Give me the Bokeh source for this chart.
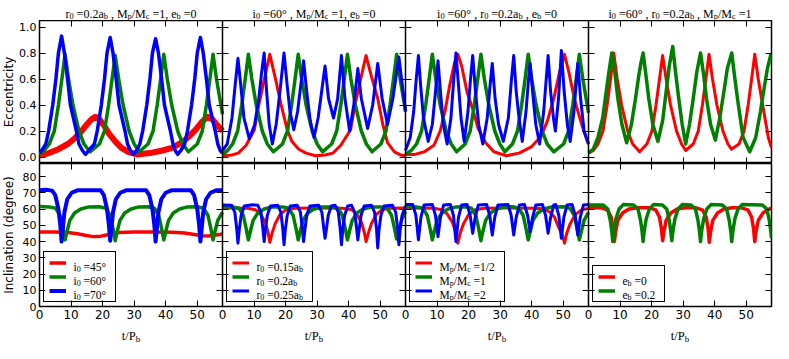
import math
from bokeh.plotting import figure
from bokeh.models import (Range1d, LinearAxis, FixedTicker, NumeralTickFormatter, Label,
                          Legend, LegendItem)
from bokeh.layouts import column, row
from bokeh.embed import file_html
from bokeh.resources import INLINE

# ---------------------------------------------------------------- data
T_MAX = 58
E_TICKS = [0.0, 0.2, 0.4, 0.6, 0.8, 1.0]
I_TICKS = [0, 10, 20, 30, 40, 50, 60, 70, 80]
T_TICKS = [0, 10, 20, 30, 40, 50]

TITLES = ["r_0 =0.2a_b , M_p/M_c =1, e_b =0",
          "i_0 =60° , M_p/M_c =1, e_b =0",
          "i_0 =60° , r_0 =0.2a_b , e_b =0",
          "i_0 =60° , r_0 =0.2a_b , M_p/M_c =1"]
LEGEND_LABELS = [["i_0 =45°", "i_0 =60°", "i_0 =70°"],
                 ["r_0 =0.15a_b", "r_0 =0.2a_b", "r_0 =0.25a_b"],
                 ["M_p/M_c =1/2", "M_p/M_c =1", "M_p/M_c =2"],
                 ["e_b =0", "e_b =0.2"]]
Y_LABEL_TOP = "Eccentricity"
Y_LABEL_BOTTOM = "Inclination (degree)"
X_LABEL = "t/P_b"

# panel 1 : eccentricity
E1_T_RED = [0, 3, 6, 9, 11, 13, 15, 16.5, 17.7, 19, 20.5, 22, 24, 26, 28, 31, 35, 39, 42, 45,
            47.5, 49.5, 51.5, 53.2, 54.8, 56.5, 58]
E1_RED = [0.01, 0.03, 0.06, 0.1, 0.14, 0.19, 0.25, 0.29, 0.31, 0.29, 0.24, 0.18, 0.12, 0.07, 0.04,
          0.02, 0.03, 0.05, 0.07, 0.11, 0.16, 0.21, 0.27, 0.31, 0.29, 0.24, 0.2]
E1_T_GREEN = [0, 1.5, 3.1, 4.7, 6.0, 7.1, 8.1, 9.2, 10.6, 12.5, 14.1, 16.0, 19.0, 20.6, 21.9, 23.0,
              24.0, 25.1, 26.5, 28.4, 30.0, 31.6, 34.4, 36.0, 37.3, 38.4, 39.4, 40.5, 41.9, 43.8,
              45.4, 47.2, 50.0, 51.6, 52.9, 54.0, 55.0, 56.1, 57.5, 58]
E1_GREEN = [0.02, 0.05, 0.1, 0.2, 0.4, 0.6, 0.79, 0.6, 0.4, 0.2, 0.1, 0.04, 0.1, 0.2, 0.4, 0.6,
            0.78, 0.6, 0.4, 0.2, 0.1, 0.04, 0.1, 0.2, 0.4, 0.6, 0.79, 0.6, 0.4, 0.2,
            0.1, 0.04, 0.1, 0.2, 0.4, 0.6, 0.79, 0.6, 0.4, 0.33]
E1_T_BLUE = [0, 1.0, 2.0, 2.9, 4.2, 5.2, 6.0, 7.0, 7.9, 8.9, 9.8, 11.7, 12.5, 13.6, 14.6, 15.6,
             17.4, 18.3, 19.6, 20.6, 21.4, 22.4, 23.3, 24.3, 25.2, 27.1, 27.9, 28.8, 29.7, 30.8,
             31.8, 32.7, 34.0, 35.0, 35.8, 36.8, 37.7, 38.7, 39.6, 41.5, 42.3, 43.0, 43.8, 44.8,
             46.0, 46.9, 48.2, 49.2, 50.0, 51.0, 51.9, 52.9, 53.8, 55.7, 56.5, 57.3, 58]
E1_BLUE = [0.03, 0.06, 0.1, 0.2, 0.4, 0.6, 0.8, 0.93, 0.8, 0.6, 0.4, 0.2, 0.1, 0.05, 0.02, 0.05,
           0.1, 0.2, 0.4, 0.6, 0.8, 0.92, 0.8, 0.6, 0.4, 0.2, 0.1, 0.05, 0.02, 0.05,
           0.1, 0.2, 0.4, 0.6, 0.8, 0.91, 0.8, 0.6, 0.4, 0.2, 0.1, 0.05, 0.02, 0.05,
           0.1, 0.2, 0.4, 0.6, 0.8, 0.92, 0.8, 0.6, 0.4, 0.2, 0.1, 0.05, 0.03]

# panel 1 : inclination
I1_T_RED = [0, 5, 9, 12, 14.5, 17, 19.5, 22, 25, 30, 36, 42, 46, 49, 51.5, 53.5, 55.5, 58]
I1_RED = [45.8, 45.8, 45.5, 44.8, 43.8, 43.0, 43.3, 44.3, 45.5, 45.9, 45.9, 45.7, 45.2, 44.3,
          43.6, 43.4, 43.8, 44.6]
I1_T_GREEN = [0, 3.1, 5.1, 6.5, 7.4, 8.1, 8.7, 9.6, 11.1, 13.1, 15.6, 19.0, 21.0, 22.4, 23.3, 24.0,
              24.6, 25.5, 27.0, 29.0, 31.5, 34.4, 36.4, 37.8, 38.7, 39.4, 40.0, 40.9, 42.4, 44.4,
              46.9, 50.0, 52.0, 53.4, 54.3, 55.0, 55.6, 56.5, 58]
I1_GREEN = [61.5, 61.3, 60.5, 56, 48, 41, 46, 53, 57.5, 60, 61.3, 61.4, 60.5, 56, 48, 40.5,
            46, 53, 57.5, 60, 61.3, 61.4, 60.5, 56, 48, 41, 46, 53, 57.5, 60,
            61.3, 61.4, 60.5, 56, 48, 41, 46, 53, 58]
I1_T_BLUE = [0, 2, 4.0, 5.0, 6.0, 6.6, 7.0, 7.4, 7.9, 8.8, 10.2, 12.0, 19.4, 20.4, 21.4, 22.0,
             22.4, 22.8, 23.3, 24.2, 25.6, 27.4, 33.8, 34.8, 35.8, 36.4, 36.8, 37.2, 37.7, 38.6,
             40.0, 41.8, 48.0, 49.0, 50.0, 50.6, 51.0, 51.4, 51.9, 52.8, 54.2, 56.0, 58]
I1_BLUE = [71.5, 71.8, 71.3, 68.5, 60, 50, 40, 48, 58, 66, 70, 71.5, 71.5, 68.5, 60, 50,
           40.5, 48, 58, 66, 70, 71.5, 71.5, 68.5, 60, 50, 40, 48, 58, 66,
           70, 71.5, 71.5, 68.5, 60, 50, 40, 48, 58, 66, 70, 71.5, 71.6]

# panel 2 : eccentricity
E2_T_RED = [0, 3, 5, 7.5, 10.1, 11.5, 13.2, 15.0, 16.9, 18.6, 20.5, 22.0, 24.2, 26.5, 29.5, 32.5,
            35, 37.5, 40.6, 42.0, 43.7, 45.5, 47.2, 49.2, 50.8, 52.3, 54.5, 56.5, 58]
E2_RED = [0.01, 0.015, 0.03, 0.09, 0.21, 0.4, 0.59, 0.79, 0.59, 0.4, 0.21, 0.12, 0.06, 0.03, 0.01,
          0.015, 0.03, 0.09, 0.21, 0.4, 0.59, 0.78, 0.62, 0.45, 0.25, 0.11, 0.04, 0.015, 0.01]
E2_T_GREEN = [0, 1.6, 3.2, 4.8, 6.1, 7.2, 8.2, 9.3, 10.7, 12.6, 14.2, 16.1, 19.0, 20.6, 21.9, 23.0,
              24.0, 25.1, 26.5, 28.4, 30.0, 31.7, 34.6, 36.2, 37.5, 38.6, 39.6, 40.7, 42.1, 44.0,
              45.6, 47.4, 50.2, 51.8, 53.1, 54.2, 55.2, 56.3, 57.7, 58]
E2_GREEN = [0.02, 0.05, 0.1, 0.2, 0.4, 0.6, 0.79, 0.6, 0.4, 0.2, 0.1, 0.04, 0.1, 0.2, 0.4, 0.6,
            0.79, 0.6, 0.4, 0.2, 0.1, 0.04, 0.1, 0.2, 0.4, 0.6, 0.79, 0.6, 0.4, 0.2,
            0.1, 0.04, 0.1, 0.2, 0.4, 0.6, 0.79, 0.6, 0.4, 0.35]
E2_T_BLUE = [0, 1.5, 3.0, 4.0, 4.9, 5.8, 6.8, 8.5, 10.2, 11.5, 12.4, 13.2, 14.0, 14.8, 15.8, 17.0,
             18.2, 19.5, 20.5, 21.4, 22.6, 23.8, 24.8, 25.7, 26.7, 27.8, 29.0, 30.3, 31.4, 32.5,
             33.6, 35.2, 36.5, 37.7, 38.8, 40.3, 41.6, 42.9, 44.0, 46.0, 47.6, 49.2, 50.6, 52.3,
             54.0, 55.9, 57.0, 58]
E2_BLUE = [0.05, 0.1, 0.3, 0.55, 0.76, 0.55, 0.3, 0.14, 0.25, 0.45, 0.65, 0.8, 0.5, 0.25, 0.1, 0.25,
           0.5, 0.8, 0.55, 0.35, 0.21, 0.35, 0.55, 0.74, 0.5, 0.28, 0.15, 0.3, 0.5, 0.7,
           0.45, 0.3, 0.45, 0.78, 0.45, 0.2, 0.4, 0.68, 0.45, 0.22, 0.4, 0.72, 0.45, 0.25,
           0.45, 0.77, 0.55, 0.35]

# panel 2 : inclination
I2_T_RED = [0, 8, 10.5, 12, 13.5, 14.4, 15.0, 15.7, 16.7, 18.2, 20, 23, 30, 38, 41, 42.5, 44,
            44.9, 45.5, 46.2, 47.2, 48.7, 50.5, 53, 58]
I2_RED = [60.6, 60.5, 59.5, 57, 52, 46, 39.5, 45, 51, 56.5, 59.5, 60.4, 60.6, 60.5, 59.5, 57, 52,
          46, 40, 45, 51, 56.5, 59.5, 60.4, 60.6]
I2_T_GREEN = [0, 3.2, 5.2, 6.6, 7.5, 8.2, 8.8, 9.7, 11.2, 13.2, 15.7, 19.0, 21.0, 22.4, 23.3, 24.0,
              24.6, 25.5, 27.0, 29.0, 31.5, 34.6, 36.6, 38.0, 38.9, 39.6, 40.2, 41.1, 42.6, 44.6,
              47.1, 50.2, 52.2, 53.6, 54.5, 55.2, 55.8, 56.7, 58]
I2_GREEN = [61.3, 61.2, 60.5, 56, 48, 41, 46, 53, 57.5, 60, 61.2, 61.3, 60.5, 56, 48, 41,
            46, 53, 57.5, 60, 61.2, 61.3, 60.5, 56, 48, 41, 46, 53, 57.5, 60,
            61.2, 61.3, 60.5, 56, 48, 41.5, 46, 53, 58.5]
I2_T_BLUE = [0, 2.9, 3.9, 4.5, 4.9, 5.3, 5.9, 6.9, 9.5, 11.2, 12.2, 12.8, 13.2, 13.6, 14.2, 15.2,
             17.5, 18.5, 19.1, 19.5, 19.9, 20.5, 21.5, 23.7, 24.7, 25.3, 25.7, 26.1, 26.7, 27.7,
             30.5, 31.5, 32.1, 32.5, 32.9, 33.5, 34.5, 35.7, 36.7, 37.3, 37.7, 38.1, 38.7, 39.7,
             40.9, 41.9, 42.5, 42.9, 43.3, 43.9, 44.9, 47.2, 48.2, 48.8, 49.2, 49.6, 50.2, 51.2,
             53.9, 54.9, 55.5, 55.9, 56.3, 56.9, 58]
I2_BLUE = [62.5, 62.3, 58, 48, 39, 47, 56, 61.8, 62.6, 62.3, 58, 48, 40, 47, 56, 61.8,
           62.3, 58, 48, 38, 47, 56, 61.8, 62.3, 58, 48, 40, 47, 56, 61.8,
           62.3, 58, 48, 42, 47, 56, 61.8, 62.3, 58, 48, 38, 47, 56, 61.8,
           62.3, 58, 48, 41, 47, 56, 61.8, 62.3, 58, 48, 36, 47, 56, 61.8,
           62.3, 58, 48, 38, 47, 56, 61.8]

# panel 3 : eccentricity
E3_T_RED = [0, 3, 6, 9, 11, 12.5, 14, 15.5, 16.6, 17.8, 19.5, 21.3, 23, 25.4, 28, 32, 36, 40, 43,
            45, 47, 48.8, 50.4, 51.8, 53.5, 55, 56.5, 58]
E3_RED = [0.02, 0.02, 0.04, 0.09, 0.2, 0.35, 0.55, 0.72, 0.79, 0.7, 0.5, 0.37, 0.22, 0.11, 0.04,
          0.01, 0.03, 0.08, 0.16, 0.28, 0.45, 0.65, 0.79, 0.65, 0.45, 0.32, 0.2, 0.1]
E3_T_GREEN = [0, 1.8, 3.5, 5.1, 6.4, 7.5, 8.5, 9.6, 11.0, 12.9, 14.5, 16.2, 18.9, 20.5, 21.8, 22.9,
              23.9, 25.0, 26.4, 28.3, 29.9, 31.5, 33.9, 35.5, 36.8, 37.9, 38.9, 40.0, 41.4, 43.3,
              44.9, 47.0, 50.1, 51.7, 53.0, 54.1, 55.1, 56.2, 57.6, 58]
E3_GREEN = [0.02, 0.05, 0.1, 0.2, 0.4, 0.6, 0.79, 0.6, 0.4, 0.2, 0.1, 0.04, 0.1, 0.2, 0.4, 0.6,
            0.79, 0.6, 0.4, 0.2, 0.1, 0.04, 0.1, 0.2, 0.4, 0.6, 0.79, 0.6, 0.4, 0.2,
            0.1, 0.04, 0.1, 0.2, 0.4, 0.6, 0.79, 0.6, 0.4, 0.34]
E3_T_BLUE = [0, 1.5, 2.6, 3.4, 4.1, 4.8, 5.7, 7.2, 8.5, 9.5, 10.3, 11.1, 12.0, 13.2, 14.4, 15.3,
             16.0, 16.8, 17.6, 18.6, 19.8, 20.6, 21.3, 22.2, 23.2, 24.5, 25.9, 26.8, 27.5, 28.4,
             29.5, 31.0, 32.6, 33.6, 34.3, 35.1, 36.0, 37.0, 38.2, 39.0, 39.5, 40.3, 41.3, 42.5,
             43.8, 44.6, 45.2, 46.0, 46.9, 47.5, 48.5, 49.4, 50.3, 51.3, 52.2, 53.4, 54.6, 55.5,
             56.6, 58]
E3_BLUE = [0.05, 0.15, 0.35, 0.6, 0.78, 0.55, 0.3, 0.12, 0.25, 0.5, 0.74, 0.5, 0.25, 0.1, 0.3, 0.6,
           0.8, 0.55, 0.3, 0.12, 0.35, 0.6, 0.78, 0.5, 0.25, 0.1, 0.3, 0.55, 0.72, 0.45,
           0.25, 0.12, 0.3, 0.6, 0.78, 0.5, 0.3, 0.12, 0.35, 0.6, 0.72, 0.5, 0.25, 0.1,
           0.35, 0.6, 0.78, 0.5, 0.3, 0.2, 0.45, 0.82, 0.5, 0.25, 0.12, 0.35, 0.72, 0.45,
           0.2, 0.1]

# panel 3 : inclination
I3_T_RED = [0, 9, 11.5, 13.2, 14.8, 15.9, 16.6, 17.3, 18.4, 20.0, 22, 25, 32, 41, 44, 45.8, 47.2,
            48.5, 49.7, 50.4, 51.1, 52.2, 53.8, 55.8, 58]
I3_RED = [60.6, 60.5, 59.5, 57, 52, 46, 39, 45, 51, 56.5, 59.5, 60.4, 60.6, 60.5, 60, 58, 55,
          49, 44, 39, 45, 51, 56.5, 59.5, 60.4]
I3_T_GREEN = [0, 3.5, 5.5, 6.9, 7.8, 8.5, 9.1, 10.0, 11.5, 13.5, 16.0, 18.9, 20.9, 22.3, 23.2, 23.9,
              24.5, 25.4, 26.9, 28.9, 31.4, 33.9, 35.9, 37.3, 38.2, 38.9, 39.5, 40.4, 41.9, 43.9,
              46.4, 50.1, 52.1, 53.5, 54.4, 55.1, 55.7, 56.6, 58]
I3_GREEN = [61.4, 61.3, 60.5, 56, 48, 41, 46, 53, 57.5, 60, 61.3, 61.4, 60.5, 56, 48, 40.5,
            46, 53, 57.5, 60, 61.3, 61.4, 60.5, 56, 48, 41, 46, 53, 57.5, 60,
            61.3, 61.4, 60.5, 56, 48, 41, 46, 53, 58]
I3_T_BLUE = [0, 2.3, 3.3, 4.1, 4.9, 5.9, 8.5, 9.5, 10.3, 11.1, 12.1, 14.2, 15.2, 16.0, 16.8, 17.8,
             19.5, 20.5, 21.3, 22.1, 23.1, 25.7, 26.7, 27.5, 28.3, 29.3, 32.5, 33.5, 34.3, 35.1,
             36.1, 37.7, 38.7, 39.5, 40.3, 41.3, 43.4, 44.4, 45.2, 46.0, 47.0, 47.6, 48.6, 49.4,
             50.2, 51.2, 52.8, 53.8, 54.6, 55.4, 56.4, 58]
I3_BLUE = [62.8, 62.8, 56, 41, 55, 62.5, 62.8, 56, 43, 55, 62.5, 62.8, 56, 40, 55, 62.5,
           62.8, 56, 45, 55, 62.5, 62.8, 56, 44, 55, 62.5, 62.8, 56, 44, 55,
           62.5, 62.8, 56, 46, 55, 62.5, 62.8, 56, 45, 55, 62.5, 62.8, 56, 42,
           55, 62.5, 62.8, 56, 44, 55, 62.5, 62.8]

# panel 4 : eccentricity
E4_T_RED = [0, 1.5, 3.0, 4.6, 5.9, 7.0, 8.0, 9.1, 10.5, 12.4, 14.0, 16.2, 18.5, 20.1, 21.4, 22.5,
            23.5, 24.6, 26.0, 27.9, 29.5, 30.8, 33.2, 34.8, 36.1, 37.2, 38.2, 39.3, 40.7, 42.6,
            44.2, 45.3, 47.7, 49.3, 50.6, 51.7, 52.7, 53.8, 55.2, 57.0, 58]
E4_RED = [0.03, 0.05, 0.1, 0.2, 0.4, 0.6, 0.8, 0.6, 0.4, 0.2, 0.1, 0.04, 0.1, 0.2, 0.4, 0.6,
          0.78, 0.6, 0.4, 0.2, 0.1, 0.05, 0.1, 0.2, 0.4, 0.6, 0.79, 0.6, 0.4, 0.2,
          0.1, 0.06, 0.1, 0.2, 0.4, 0.6, 0.79, 0.6, 0.4, 0.15, 0.07]
E4_T_GREEN = [0, 1.5, 3.0, 4.5, 5.6, 6.5, 7.4, 8.3, 9.3, 10.6, 12.1, 13.6, 14.9, 15.9, 16.6, 17.3,
              18.1, 19.1, 20.4, 22.0, 23.5, 24.6, 25.6, 26.7, 27.6, 28.6, 29.7, 30.8, 32.0, 33.2,
              34.3, 35.5, 36.4, 37.4, 38.7, 40.2, 41.6, 42.9, 44.0, 45.4, 46.4, 47.5, 49.0, 51.1,
              53.0, 54.5, 55.6, 56.7, 57.7, 58]
E4_GREEN = [0.03, 0.06, 0.15, 0.3, 0.5, 0.66, 0.8, 0.66, 0.45, 0.25, 0.11, 0.25, 0.45, 0.62, 0.72,
            0.8, 0.65, 0.45, 0.25, 0.12, 0.28, 0.5, 0.7, 0.85, 0.65, 0.45, 0.25, 0.1, 0.25, 0.45,
            0.65, 0.8, 0.65, 0.45, 0.25, 0.13, 0.3, 0.5, 0.68, 0.8, 0.6, 0.4, 0.15, 0.04,
            0.15, 0.35, 0.52, 0.68, 0.78, 0.74]

# panel 4 : inclination
I4_T_RED = [0, 4.0, 6.0, 7.2, 7.8, 8.2, 8.6, 9.3, 10.8, 12.8, 15.5, 19.3, 21.3, 22.5, 23.1, 23.5,
            23.9, 24.6, 26.1, 28.1, 30.8, 34.1, 36.1, 37.3, 37.9, 38.3, 38.7, 39.4, 40.9, 42.9,
            45.6, 48.5, 50.5, 51.7, 52.3, 52.7, 53.1, 53.8, 55.3, 57.3, 58]
I4_RED = [60.8, 60.7, 59.5, 55, 48, 40, 46, 53, 57.5, 60, 60.8, 60.7, 59.5, 55, 48, 40.5,
          46, 53, 57.5, 60, 60.8, 60.7, 59.5, 55, 48, 39.5, 46, 53, 57.5, 60,
          60.8, 60.7, 59.5, 55, 48, 40, 46, 53, 57.5, 60, 60.5]
I4_T_GREEN = [0, 4.7, 6.1, 6.9, 7.4, 7.7, 8.1, 8.7, 9.7, 11.0, 14.3, 15.7, 16.5, 17.0, 17.3, 17.7,
              18.3, 19.3, 20.6, 23.4, 24.8, 25.6, 26.1, 26.4, 26.8, 27.4, 28.4, 29.7, 32.5, 33.9,
              34.7, 35.2, 35.5, 35.9, 36.5, 37.5, 38.8, 42.4, 43.8, 44.6, 45.1, 45.4, 45.8, 46.4,
              47.4, 48.7, 55.1, 56.5, 57.3, 57.8, 58]
I4_GREEN = [62.5, 62.5, 60, 53, 46, 40, 47, 54, 60, 62.7, 62.5, 60, 53, 46, 40, 47,
            54, 60, 62.7, 62.5, 60, 53, 46, 40.5, 47, 54, 60, 62.7, 62.5, 60,
            53, 46, 40, 47, 54, 60, 62.7, 62.5, 60, 53, 46, 40, 47, 54,
            60, 62.7, 62.5, 60, 53, 46, 42]

# ---------------------------------------------------------------- styling / layout
RED, GREEN, BLUE = "#ff0000", "#008000", "#0000ff"

PANELS = [
    {"ecc": [(E1_T_RED, E1_RED, RED, 6), (E1_T_GREEN, E1_GREEN, GREEN, 3.5), (E1_T_BLUE, E1_BLUE, BLUE, 3.5)],
     "inc": [(I1_T_RED, I1_RED, RED, 3.5), (I1_T_GREEN, I1_GREEN, GREEN, 3.5), (I1_T_BLUE, I1_BLUE, BLUE, 4)]},
    {"ecc": [(E2_T_RED, E2_RED, RED, 3), (E2_T_GREEN, E2_GREEN, GREEN, 3.5), (E2_T_BLUE, E2_BLUE, BLUE, 3)],
     "inc": [(I2_T_RED, I2_RED, RED, 3), (I2_T_GREEN, I2_GREEN, GREEN, 3.5), (I2_T_BLUE, I2_BLUE, BLUE, 3)]},
    {"ecc": [(E3_T_RED, E3_RED, RED, 3), (E3_T_GREEN, E3_GREEN, GREEN, 3.5), (E3_T_BLUE, E3_BLUE, BLUE, 3)],
     "inc": [(I3_T_RED, I3_RED, RED, 3), (I3_T_GREEN, I3_GREEN, GREEN, 3.5), (I3_T_BLUE, I3_BLUE, BLUE, 3)]},
    {"ecc": [(E4_T_RED, E4_RED, RED, 3), (E4_T_GREEN, E4_GREEN, GREEN, 3.5)],
     "inc": [(I4_T_RED, I4_RED, RED, 3.5), (I4_T_GREEN, I4_GREEN, GREEN, 3.5)]},
]

PANEL_W = 183
N = 4
FW = PANEL_W * N
FH = 143
TITLE_H = 20
XLAB_H = 20
BOT_AX = 17
YLAB_W = 16
LEFT_B = 22
RIGHT_B = 3
TOTAL_H = TITLE_H + FH + FH + BOT_AX + XLAB_H
E_RANGE = (-0.05, 1.05)
I_RANGE = (0, 88)
RN = ["default", "p1", "p2", "p3"]

SERIF = "Liberation Serif"
SANS = "DejaVu Sans"
SUB = 0.7
CHAR_W = {" ": .25, "(": .333, ")": .333, ",": .25, ".": .25, "/": .278, "=": .564, "°": .4,
          "a": .444, "b": .5, "c": .444, "e": .444, "i": .278, "p": .5, "r": .333, "t": .278,
          "M": .889, "P": .556}


def parse(s):
    segs, buf, i = [], "", 0
    while i < len(s):
        if s[i] == "_" and i + 1 < len(s):
            if buf:
                segs.append((buf, False))
                buf = ""
            segs.append((s[i + 1], True))
            i += 2
        else:
            buf += s[i]
            i += 1
    if buf:
        segs.append((buf, False))
    return segs


def text_w(txt, fs):
    return sum(CHAR_W.get(c, 0.5) for c in txt) * fs


def math_width(s, fs):
    return sum(text_w(t, fs * SUB if sub else fs) for t, sub in parse(s))


def add_math(p, s, x, y, fs, align="left"):
    segs = parse(s)
    total = math_width(s, fs)
    x0 = x - total / 2 if align == "center" else x
    for t, sub in segs:
        size = fs * SUB if sub else fs
        lead = len(t) - len(t.lstrip())
        body = t.strip()
        if body:
            p.add_layout(Label(x=x0 + text_w(t[:lead], size), y=y - (fs * 0.22 if sub else 0),
                               x_units="screen", y_units="screen", text=body,
                               text_font=SERIF, text_font_size=f"{size:.1f}px",
                               text_align="left", text_baseline="alphabetic",
                               text_color="black"))
        x0 += text_w(t, size)


def blank_fig(w, h, left, right):
    p = figure(frame_width=w, frame_height=h, x_range=Range1d(0, 1), y_range=Range1d(0, 1),
               x_axis_type=None, y_axis_type=None, output_backend="svg", toolbar_location=None,
               min_border_left=left, min_border_right=right, min_border_top=0, min_border_bottom=0,
               background_fill_color="white", border_fill_color="white")
    p.outline_line_color = None
    return p


def make_fig(yr, bottom):
    p = figure(frame_width=FW, frame_height=FH,
               x_range=Range1d(0, N * T_MAX), y_range=Range1d(*yr),
               x_axis_type=None, y_axis_type=None,
               output_backend="svg", toolbar_location=None,
               min_border_left=LEFT_B, min_border_right=RIGHT_B,
               min_border_top=0, min_border_bottom=bottom,
               background_fill_color="white", border_fill_color="white")
    p.extra_x_ranges = {RN[k]: Range1d(-T_MAX * k, T_MAX * (N - k)) for k in range(1, N)}
    p.outline_line_color = "black"
    p.outline_line_width = 1.5
    return p


def add_axis(p, side, ticks, rname="default", fixed=None, tin=6, tout=0, show=False,
             fs="11px", line=False, fmt=None, overrides=None):
    ax = LinearAxis(ticker=FixedTicker(ticks=ticks, minor_ticks=[]),
                    major_tick_in=tin, major_tick_out=tout,
                    major_tick_line_color="black", major_tick_line_width=1,
                    minor_tick_line_color=None,
                    axis_line_color="black" if line else None, axis_line_width=1.5,
                    major_label_text_font=SANS, major_label_text_font_size=fs,
                    major_label_text_color="black" if show else None,
                    major_label_standoff=3)
    ax.x_range_name = rname
    if fixed is not None:
        ax.fixed_location = fixed
    if fmt is not None:
        ax.formatter = fmt
    if overrides is not None:
        ax.major_label_overrides = overrides
    p.add_layout(ax, side)


def decorate(p, yticks, yr, labelled_bottom, fmt=None):
    add_axis(p, "left", yticks, show=True, fs="11px", fmt=fmt)
    for k in range(1, N):
        add_axis(p, "left", yticks, rname=RN[k], fixed=0, tin=6, tout=6, line=True)
    add_axis(p, "right", yticks, rname=RN[N - 1], fixed=T_MAX, tin=6)
    for k in range(N):
        add_axis(p, "above", T_TICKS, rname=RN[k], fixed=yr[1])
    if labelled_bottom:
        all_ticks = [k * T_MAX + t for k in range(N) for t in T_TICKS]
        labels = {k * T_MAX + t: str(t) for k in range(N) for t in T_TICKS}
        add_axis(p, "below", all_ticks, show=True, fs="12px", overrides=labels)
    else:
        for k in range(N):
            add_axis(p, "below", T_TICKS, rname=RN[k], fixed=yr[0])


p_title = blank_fig(FW, TITLE_H, LEFT_B, RIGHT_B)
p_top = make_fig(E_RANGE, 0)
p_bot = make_fig(I_RANGE, BOT_AX)
p_xlab = blank_fig(FW, XLAB_H, LEFT_B, RIGHT_B)
p_ylab = blank_fig(YLAB_W, TOTAL_H, 0, 0)

decorate(p_top, E_TICKS, E_RANGE, False, fmt=NumeralTickFormatter(format="0.0"))
decorate(p_bot, I_TICKS, I_RANGE, True)

legend_renderers = []
for k, panel in enumerate(PANELS):
    for t, y, c, w in panel["ecc"]:
        p_top.line(t, y, x_range_name=RN[k], line_color=c, line_width=w, line_join="round")
    rs = []
    for t, y, c, w in panel["inc"]:
        rs.append(p_bot.line(t, y, x_range_name=RN[k], line_color=c, line_width=w,
                             line_join="round"))
    legend_renderers.append(rs)

# titles (room above and below, so subscripts stay inside their strip)
for k in range(N):
    add_math(p_title, TITLES[k], k * PANEL_W + PANEL_W / 2, 7, 12, align="center")

# axis titles
p_ylab.add_layout(Label(x=YLAB_W / 2, y=XLAB_H + BOT_AX + FH + FH / 2,
                        x_units="screen", y_units="screen", text=Y_LABEL_TOP,
                        angle=math.pi / 2, text_align="center", text_baseline="middle",
                        text_font=SANS, text_font_size="12px", text_color="black"))
p_ylab.add_layout(Label(x=YLAB_W / 2, y=XLAB_H + BOT_AX + FH / 2,
                        x_units="screen", y_units="screen", text=Y_LABEL_BOTTOM,
                        angle=math.pi / 2, text_align="center", text_baseline="middle",
                        text_font=SANS, text_font_size="12px", text_color="black"))
for k in range(N):
    add_math(p_xlab, X_LABEL, k * PANEL_W + PANEL_W / 2, 7.5, 12.5, align="center")

# legends
PAD, SP, GW, GH, STAND, LFS = 5, 3, 17, 11, 8, 11.5
for k in range(N):
    labels = LEGEND_LABELS[k]
    n = len(labels)
    lw = max(math_width(s, LFS) for s in labels) + 3
    lx, ly = k * PANEL_W + 4, 4
    leg = Legend(items=[LegendItem(label=" ", renderers=[r]) for r in legend_renderers[k]],
                 location=(lx, ly), orientation="vertical", padding=PAD, spacing=SP, margin=0,
                 glyph_width=GW, glyph_height=GH, label_width=int(math.ceil(lw)),
                 label_height=GH, label_standoff=STAND,
                 border_line_color="black", border_line_width=1, border_line_alpha=1.0,
                 background_fill_color="white", background_fill_alpha=0.0,
                 label_text_font_size="1px")
    p_bot.add_layout(leg)
    H = 2 * PAD + n * GH + (n - 1) * SP
    for i, s in enumerate(labels):
        cy = ly + H - PAD - i * (GH + SP) - GH / 2
        add_math(p_bot, s, lx + PAD + GW + STAND, cy - 0.24 * LFS, LFS)

layout = row(p_ylab, column(p_title, p_top, p_bot, p_xlab))
open("out.html", "w").write(file_html(layout, INLINE))
